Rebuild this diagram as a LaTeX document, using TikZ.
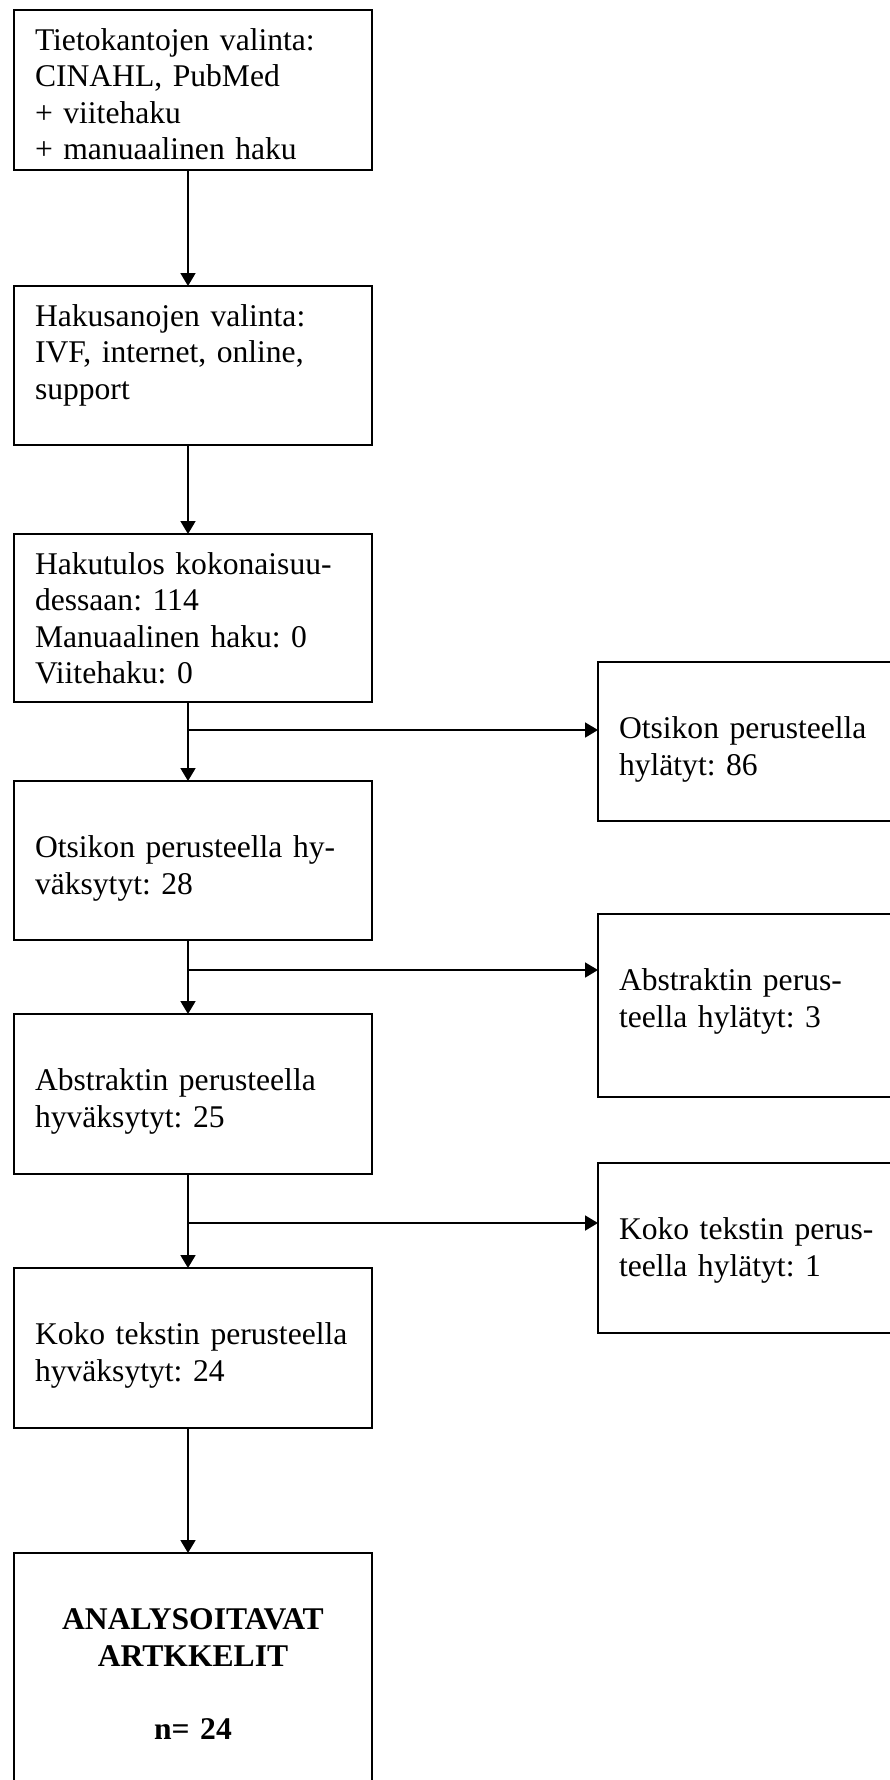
\documentclass[tikz,border=0pt]{standalone}
\usepackage{fontspec}
\setmainfont{Liberation Serif}
\usetikzlibrary{arrows.meta}

\begin{document}
\begin{tikzpicture}[
                   x = 1pt,
                   y = -1pt,
    every node/.style = {outer sep=0pt, inner ysep=0pt, inner xsep=21pt,
                         font=\fontsize{31.6pt}{36.6pt}\selectfont\frenchspacing},
          box/.style = {draw, line width=1.8pt, anchor=north west,
                        align=left, text height=40pt},
         wide/.style = {box, text width=316pt},
         side/.style = {box, text width=258pt},
     flowline/.style = {draw, line width=1.8pt,
                        -{Triangle[width=15pt,length=13pt]}},
                     ]
\useasboundingbox (0,0) rectangle (889,1780);

% vasen sarake
\node[wide, text depth=120pt] (tieto) at (14,10)
    {Tietokantojen valinta:\\CINAHL, PubMed\\+ viitehaku\\+ manuaalinen haku};
\node[wide, text depth=119pt] (hakusanat) at (14,286)
    {Hakusanojen valinta:\\IVF, internet, online,\\support};
\node[wide, text depth=128pt] (hakutulos) at (14,534)
    {Hakutulos kokonaisuu-\\dessaan: 114\\Manuaalinen haku: 0\\Viitehaku: 0};
\node[wide, text depth=119pt] (otsikkoOk) at (14,781)
    {\mbox{}\\\mbox{Otsikon perusteella hy-}\\väksytyt: 28};
\node[wide, text depth=120pt] (abstrOk) at (14,1014)
    {\mbox{}\\Abstraktin perusteella\\hyväksytyt: 25};
\node[wide, text depth=120pt] (kokoOk) at (14,1268)
    {\mbox{}\\\mbox{Koko tekstin perusteella}\\hyväksytyt: 24};
\node[wide, align=center, text depth=207pt,
      font=\fontsize{31.6pt}{36.6pt}\selectfont\frenchspacing\bfseries] (analyysi) at (14,1553)
    {\mbox{}\\ANALYSOITAVAT\\ARTKKELIT\\\mbox{}\\n= 24};

% hylätyt
\node[side, text depth=119pt] (otsikkoHyl) at (598,662)
    {\mbox{}\\Otsikon perusteella\\hylätyt: 86};
\node[side, text depth=143pt] (abstrHyl) at (598,914)
    {\mbox{}\\Abstraktin perus-\\teella hylätyt: 3};
\node[side, text depth=130pt] (kokoHyl) at (598,1163)
    {\mbox{}\\Koko tekstin perus-\\teella hylätyt: 1};

% nuolet
\coordinate (ax) at (188,0);
\coordinate (haara1) at (188,730);
\coordinate (haara2) at (188,970);
\coordinate (haara3) at (188,1223);

\draw[flowline] (tieto.south -| ax) -- (hakusanat.north -| ax);
\draw[flowline] (hakusanat.south -| ax) -- (hakutulos.north -| ax);
\draw[flowline] (hakutulos.south -| ax) -- (otsikkoOk.north -| ax);
\draw[flowline] (otsikkoOk.south -| ax) -- (abstrOk.north -| ax);
\draw[flowline] (abstrOk.south -| ax) -- (kokoOk.north -| ax);
\draw[flowline] (kokoOk.south -| ax) -- (analyysi.north -| ax);

\draw[flowline] (haara1) -- (haara1 -| otsikkoHyl.west);
\draw[flowline] (haara2) -- (haara2 -| abstrHyl.west);
\draw[flowline] (haara3) -- (haara3 -| kokoHyl.west);
\end{tikzpicture}
\end{document}
